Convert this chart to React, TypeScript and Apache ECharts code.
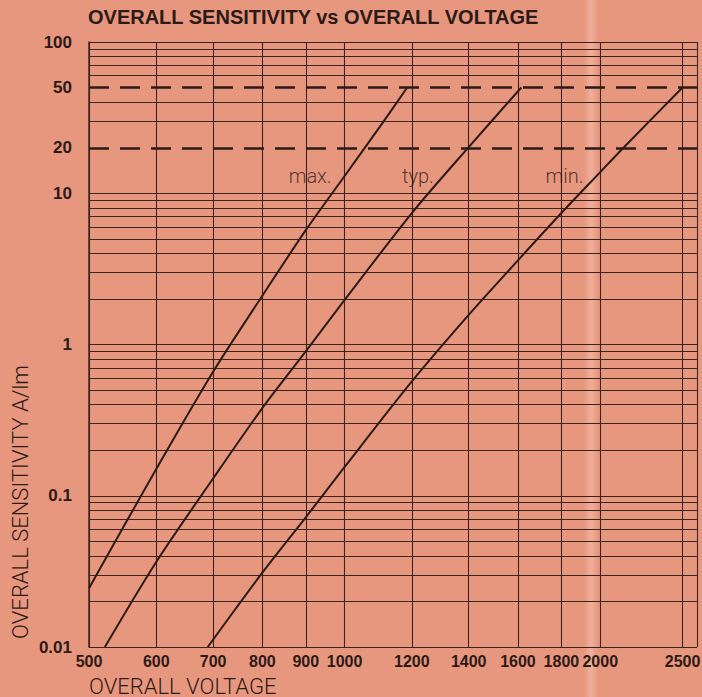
import React, { useEffect, useRef } from "react";
import * as echarts from "echarts";

// ---------- texts ----------
const titleText = "OVERALL SENSITIVITY vs OVERALL VOLTAGE";
const xAxisTitle = "OVERALL VOLTAGE";
const yAxisTitle = "OVERALL SENSITIVITY A/lm";

// ---------- axes ----------
const voltageMin = 500;
const voltageMax = 2600;
const sensitivityMin = 0.01;
const sensitivityMax = 100;
const voltageTicks = [500, 600, 700, 800, 900, 1000, 1200, 1400, 1600, 1800, 2000, 2500];
const voltageGrid = [500, 600, 700, 800, 900, 1000, 1200, 1400, 1600, 1800, 2000, 2500, 2600];
const sensitivityLabels = [0.01, 0.1, 1, 10, 20, 50, 100];
const decadeStarts = [0.01, 0.1, 1, 10];
const decadeSteps = [1, 2, 3, 4, 5, 6, 7, 8, 9];
const dashedLevels = [20, 50];

// ---------- curves (voltage V, sensitivity A/lm) ----------
const maxVoltage = [500, 600, 700, 800, 900, 1000, 1100, 1185];
const maxSensitivity = [0.0245, 0.15, 0.66, 2.1, 5.7, 13, 27.5, 50];
const typVoltage = [522, 600, 700, 800, 900, 1000, 1200, 1400, 1615];
const typSensitivity = [0.01, 0.0365, 0.13, 0.38, 0.9, 1.97, 7.4, 20.2, 50];
const minVoltage = [690, 800, 900, 1000, 1200, 1400, 1600, 1800, 2000, 2130, 2500];
const minSensitivity = [0.01, 0.031, 0.072, 0.155, 0.57, 1.57, 3.6, 7.4, 13.8, 20, 50];

// ---------- curve annotations ----------
const curveNames = ["max.", "typ.", "min."];
const labelVoltage = [968, 1277, 1917];
const labelSensitivity = [13, 13, 13];

const lg = (v: number) => Math.log10(v);

const BG = "#E8977F";
const INK = "#2c1a17";
const GRID = "#3a2420";
const BOLD = "'Liberation Sans', Arial, sans-serif";
const LIGHT_FONT = "300 22px Roboto, 'Liberation Sans', sans-serif";

export default function App() {
  const ref = useRef<HTMLDivElement>(null);

  useEffect(() => {
    if (!ref.current) return;
    const chart = echarts.init(ref.current, null, { renderer: "svg" });

    const sensitivityGrid = decadeStarts
      .flatMap((d) => decadeSteps.map((s) => d * s))
      .concat([sensitivityMax])
      .filter((v) => !dashedLevels.some((d) => Math.abs(d - v) < 1e-9));

    const toPairs = (xs: number[], ys: number[]) => xs.map((x, i) => [lg(x), lg(ys[i])]);

    const curveStyle = { color: INK, width: 2 };

    const option: any = {
      animation: false,
      backgroundColor: BG,
      title: {
        text: titleText,
        left: 88,
        top: 7,
        padding: 0,
        textStyle: {
          fontFamily: BOLD,
          fontWeight: "bold",
          fontSize: 20,
          color: INK,
        },
      },
      grid: { left: 89, right: 5, top: 42, bottom: 50, containLabel: false, outerBoundsMode: "none" },
      xAxis: {
        type: "value",
        min: lg(voltageMin),
        max: lg(voltageMax),
        axisLine: { show: true, lineStyle: { color: GRID, width: 1.2 } },
        axisTick: { show: false, customValues: voltageGrid.map(lg) },
        splitLine: { show: true, lineStyle: { color: GRID, width: 1.1 } },
        axisLabel: {
          customValues: voltageTicks.map(lg),
          formatter: (v: number) => String(Math.round(Math.pow(10, v))),
          margin: 6,
          fontFamily: BOLD,
          fontWeight: "bold",
          fontSize: 16,
          color: INK,
        },
      },
      yAxis: {
        type: "value",
        min: lg(sensitivityMin),
        max: lg(sensitivityMax),
        axisLine: { show: true, lineStyle: { color: GRID, width: 1.5 } },
        axisTick: { show: false, customValues: sensitivityGrid.map(lg) },
        splitLine: { show: true, lineStyle: { color: GRID, width: 1 } },
        axisLabel: {
          customValues: sensitivityLabels.map(lg),
          formatter: (v: number) => {
            const n = Math.pow(10, v);
            return n >= 1 ? String(Math.round(n)) : String(parseFloat(n.toPrecision(2)));
          },
          margin: 17,
          fontFamily: BOLD,
          fontWeight: "bold",
          fontSize: 17,
          color: INK,
        },
      },
      graphic: [
        {
          type: "rect",
          z: -1,
          silent: true,
          shape: { x: 584, y: 0, width: 14, height: 697 },
          style: {
            fill: new echarts.graphic.LinearGradient(0, 0, 1, 0, [
              { offset: 0, color: "rgba(255,228,212,0)" },
              { offset: 0.5, color: "rgba(255,228,212,0.32)" },
              { offset: 1, color: "rgba(255,228,212,0)" },
            ]),
          },
        },
        {
          type: "text",
          x: 20,
          y: 502,
          rotation: Math.PI / 2,
          silent: true,
          style: {
            text: yAxisTitle,
            font: LIGHT_FONT,
            fill: INK,
            align: "center",
            verticalAlign: "middle",
          },
        },
        {
          type: "text",
          x: 89,
          y: 686,
          silent: true,
          style: {
            text: xAxisTitle,
            font: LIGHT_FONT,
            fill: INK,
            align: "left",
            verticalAlign: "middle",
          },
        },
      ],
      series: [
        {
          name: "max.",
          type: "line",
          data: toPairs(maxVoltage, maxSensitivity),
          symbol: "none",
          smooth: 0.3,
          lineStyle: curveStyle,
          z: 4,
          markLine: {
            silent: true,
            symbol: ["none", "none"],
            label: { show: false },
            lineStyle: { color: INK, width: 2.5, type: [20, 11] },
            data: dashedLevels.map((v) => ({ yAxis: lg(v) })),
          },
        },
        {
          name: "typ.",
          type: "line",
          data: toPairs(typVoltage, typSensitivity),
          symbol: "none",
          smooth: 0.3,
          lineStyle: curveStyle,
          z: 4,
        },
        {
          name: "min.",
          type: "line",
          data: toPairs(minVoltage, minSensitivity),
          symbol: "none",
          smooth: 0.3,
          lineStyle: curveStyle,
          z: 4,
        },
        {
          name: "labels",
          type: "scatter",
          silent: true,
          symbolSize: 0,
          data: curveNames.map((n, i) => ({ name: n, value: [lg(labelVoltage[i]), lg(labelSensitivity[i])] })),
          label: {
            show: true,
            position: "left",
            distance: 1,
            formatter: "{b}",
            fontFamily: "Roboto, 'Liberation Sans', sans-serif",
            fontWeight: 300,
            fontSize: 20,
            color: INK,
          },
          z: 5,
        },
      ],
    };

    chart.setOption(option);
    return () => chart.dispose();
  }, []);

  return (
    <div
      ref={ref}
      style={{ position: "fixed", left: 0, top: 0, width: 702, height: 697 }}
    />
  );
}
